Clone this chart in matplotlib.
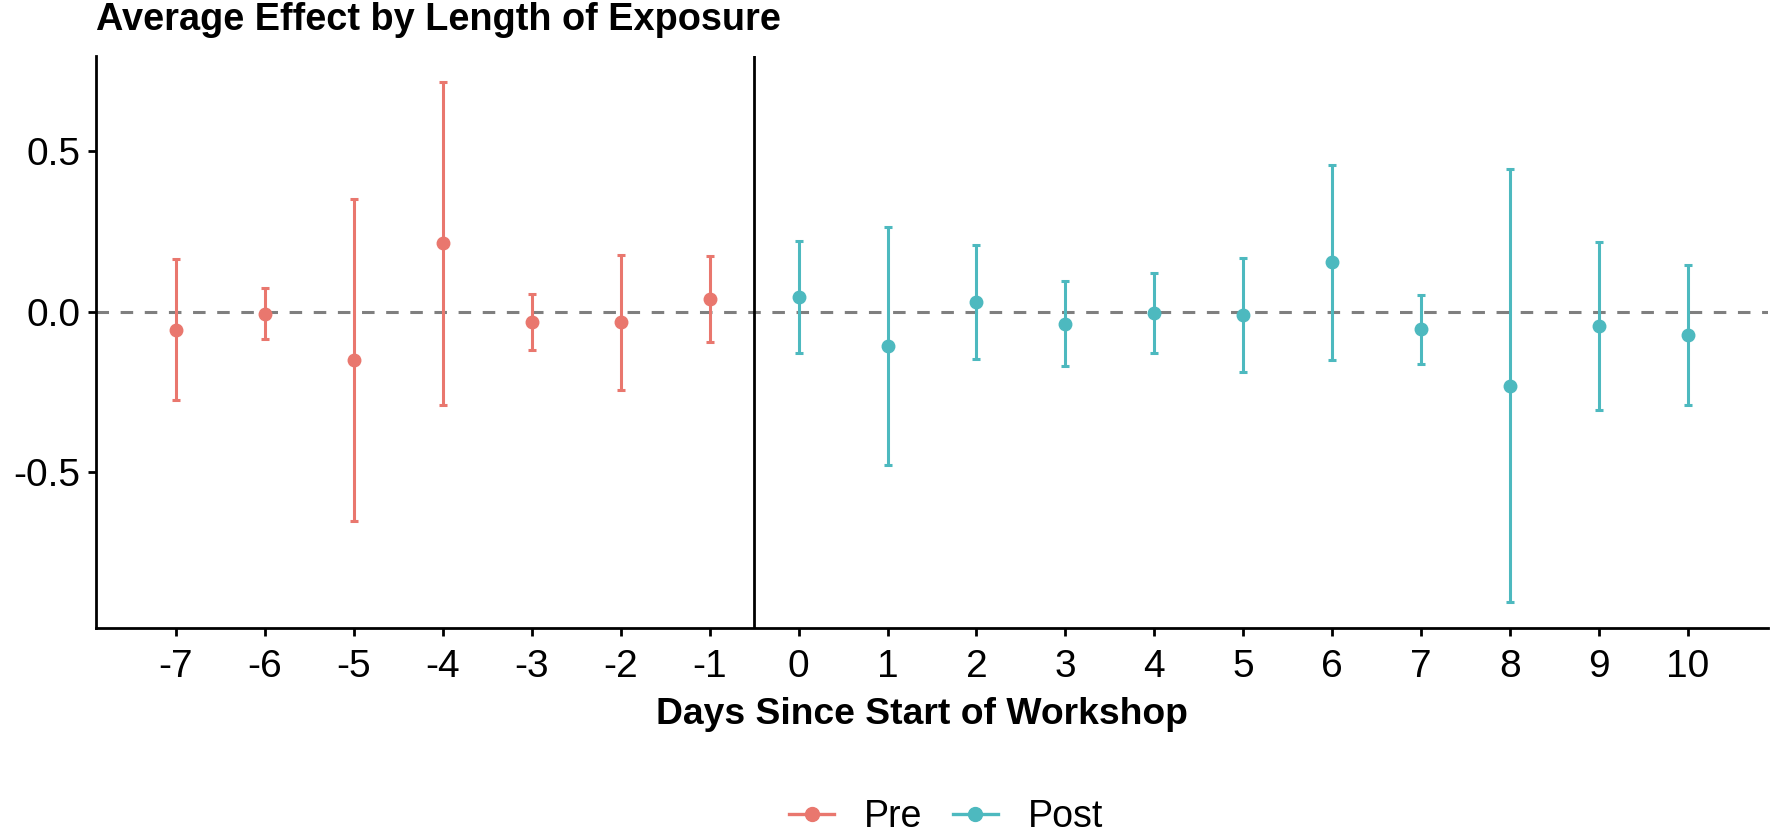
import numpy as np
import matplotlib
matplotlib.use("Agg")
import matplotlib.pyplot as plt
from matplotlib.lines import Line2D

plt.rcParams['font.family'] = ['Liberation Sans', 'DejaVu Sans']

# estimates and confidence bounds
days_pre = [-7, -6, -5, -4, -3, -2, -1]
est_pre = [-0.056, -0.007, -0.152, 0.213, -0.031, -0.033, 0.040]
lo_pre = [-0.275, -0.085, -0.653, -0.291, -0.118, -0.244, -0.093]
hi_pre = [0.163, 0.073, 0.351, 0.716, 0.055, 0.177, 0.173]

days_post = [0, 1, 2, 3, 4, 5, 6, 7, 8, 9, 10]
est_post = [0.045, -0.106, 0.029, -0.038, -0.003, -0.011, 0.154, -0.054, -0.231, -0.044, -0.073]
lo_post = [-0.128, -0.477, -0.148, -0.169, -0.128, -0.187, -0.151, -0.162, -0.905, -0.305, -0.292]
hi_post = [0.220, 0.265, 0.209, 0.095, 0.121, 0.167, 0.457, 0.052, 0.444, 0.217, 0.147]

x_ticks = list(range(-7, 11))
y_ticks = [-0.5, 0.0, 0.5]

col_pre = '#E9776E'
col_post = '#4DB9BF'

W, H = 1772, 836
fig = plt.figure(figsize=(W / 100, H / 100), dpi=100)
ax = fig.add_axes([96 / W, 1 - 628 / H, (1768 - 96) / W, (628 - 56) / H])


def draw_group(days, est, lo, hi, color):
    est = np.array(est)
    yerr = [est - np.array(lo), np.array(hi) - est]
    ax.errorbar(days, est, yerr=yerr, fmt='o', color=color, ecolor=color,
                markersize=9, elinewidth=2.2, capsize=3, capthick=2.2, zorder=3)


draw_group(days_pre, est_pre, lo_pre, hi_pre, col_pre)
draw_group(days_post, est_post, lo_post, hi_post, col_post)

ax.axhline(0, color='#7F7F7F', lw=2.2, dashes=(4.1, 3.8), zorder=1)
ax.axvline(-0.5, color='black', lw=2.0, zorder=2)

ax.set_xlim(-7.9, 10.9)
ax.set_ylim(-0.986, 0.797)
ax.set_xticks(x_ticks)
ax.set_xticklabels([str(t) for t in x_ticks])
ax.set_yticks(y_ticks)
ax.set_yticklabels(['-0.5', '0.0', '0.5'])

for s in ['top', 'right']:
    ax.spines[s].set_visible(False)
for s in ['left', 'bottom']:
    ax.spines[s].set_linewidth(2.0)
ax.tick_params(axis='both', length=6, width=2.0, labelsize=28, colors='black')
ax.tick_params(axis='x', pad=9)
ax.tick_params(axis='y', pad=5)

fig.text(96 / W, 1 - 30 / H, 'Average Effect by Length of Exposure',
         fontsize=27.3, fontweight='bold', ha='left', va='baseline')
fig.text((96 + 1768) / 2 / W - 10 / W, 1 - 724 / H, 'Days Since Start of Workshop',
         fontsize=26.8, fontweight='bold', ha='center', va='baseline')

handles = [Line2D([], [], color=col_pre, marker='o', markersize=10, lw=2.4),
           Line2D([], [], color=col_post, marker='o', markersize=10, lw=2.4)]
fig.legend(handles, ['Pre', 'Post'], loc='center', bbox_to_anchor=(946 / W, 1 - 817 / H),
           ncol=2, frameon=False, fontsize=27, handlelength=1.2, handletextpad=0.8,
           columnspacing=0.8, borderpad=0, borderaxespad=0)

fig.savefig('out.png', dpi=100)
